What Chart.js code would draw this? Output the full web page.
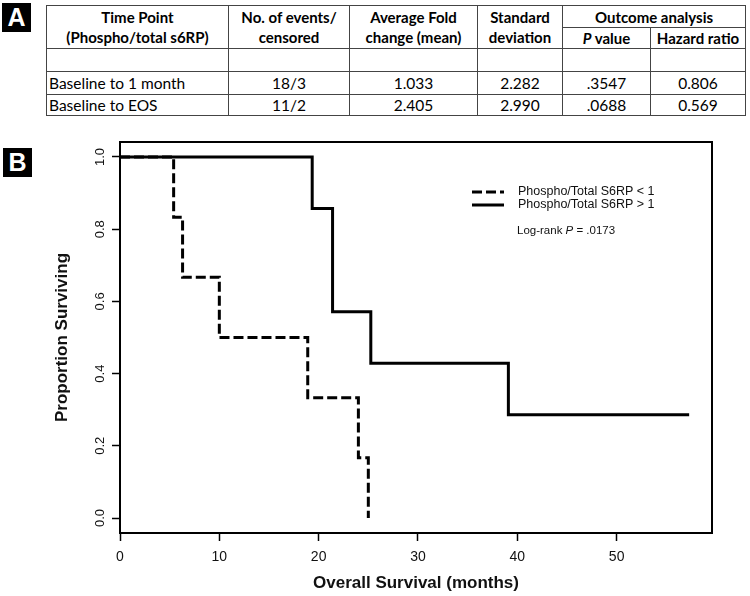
<!DOCTYPE html>
<html>
<head>
<meta charset="utf-8">
<script src="https://cdn.jsdelivr.net/npm/chart.js@4.4.1/dist/chart.umd.min.js"></script>
<style>
  html,body{margin:0;padding:0;background:#fff;}
  body{width:750px;height:596px;position:relative;overflow:hidden;}
  .lab{position:absolute;width:29px;height:29px;background:#000;color:#fff;font:bold 25px "Liberation Sans",Arial,sans-serif;text-align:center;line-height:29px;}
  #tbl{position:absolute;left:46px;top:5px;border-collapse:collapse;table-layout:fixed;font-family:Lato,"Liberation Sans",sans-serif;color:#000;}
  #tbl td{border:1px solid #444;padding:0;white-space:nowrap;overflow:hidden;font-size:15.5px;line-height:18px;text-align:center;vertical-align:middle;}
  #tbl td.h{font-weight:bold;font-size:15px;line-height:20px;}
  #tbl td.l{text-align:left;padding-left:2px;}
  #wrap{position:absolute;left:0;top:125px;width:750px;height:471px;}
</style>
</head>
<body>
<div class="lab" style="left:2px;top:3px;">A</div>
<table id="tbl"></table>
<div class="lab" style="left:3px;top:148px;">B</div>
<div id="wrap"><canvas id="c" width="750" height="471"></canvas></div>
<script>
// ---------- Panel A table data ----------
const headerTimePoint = ['Time Point', '(Phospho/total s6RP)'];
const headerEvents = ['No. of events/', 'censored'];
const headerFold = ['Average Fold', 'change (mean)'];
const headerSD = ['Standard', 'deviation'];
const headerOutcome = 'Outcome analysis';
const headerP = 'value';
const headerHR = 'Hazard ratio';
const rowLabels = ['Baseline to 1 month', 'Baseline to EOS'];
const eventsCensored = ['18/3', '11/2'];
const avgFoldChange = ['1.033', '2.405'];
const stdDeviation = ['2.282', '2.990'];
const pValues = ['.3547', '.0688'];
const hazardRatios = ['0.806', '0.569'];

// ---------- Panel B survival data ----------
const seriesLabels = ['Phospho/Total S6RP < 1', 'Phospho/Total S6RP > 1'];
const timesLow = [0, 5.4, 6.3, 10, 18.9, 24, 25];
const survLow = [1, 0.833, 0.667, 0.5, 0.333, 0.167, 0];
const timesHigh = [0, 19.35, 21.4, 25.25, 39.1, 57.3];
const survHigh = [1, 0.857, 0.571, 0.429, 0.286, 0.286];
const xTickValues = [0, 10, 20, 30, 40, 50];
const yTickValues = [0, 0.2, 0.4, 0.6, 0.8, 1.0];
const xAxisTitle = 'Overall Survival (months)';
const yAxisTitle = 'Proportion Surviving';
const logRankP = '.0173';

// build table
(function(){
  const colW = [182, 121, 128, 85, 88, 95];
  const t = document.getElementById('tbl');
  let html = '<colgroup>' + colW.map(w => '<col style="width:' + w + 'px">').join('') + '</colgroup>';
  html += '<tr style="height:22px">' +
    '<td class="h" rowspan="2">' + headerTimePoint.join('<br>') + '</td>' +
    '<td class="h" rowspan="2">' + headerEvents.join('<br>') + '</td>' +
    '<td class="h" rowspan="2">' + headerFold.join('<br>') + '</td>' +
    '<td class="h" rowspan="2">' + headerSD.join('<br>') + '</td>' +
    '<td class="h" colspan="2">' + headerOutcome + '</td></tr>';
  html += '<tr style="height:20px"><td class="h"><i>P</i> ' + headerP + '</td><td class="h">' + headerHR + '</td></tr>';
  html += '<tr style="height:23px">' + colW.map(() => '<td></td>').join('') + '</tr>';
  rowLabels.forEach((r, i) => {
    html += '<tr style="height:' + (i === 0 ? 23 : 21) + 'px"><td class="l">' + r + '</td><td>' + eventsCensored[i] +
      '</td><td>' + avgFoldChange[i] + '</td><td>' + stdDeviation[i] + '</td><td>' + pValues[i] +
      '</td><td>' + hazardRatios[i] + '</td></tr>';
  });
  t.innerHTML = html;
})();

Chart.defaults.font.family = '"Liberation Sans", Arial, sans-serif';
Chart.defaults.color = '#111';

const framePlugin = {
  id: 'frame',
  afterDatasetsDraw(chart) {
    const {ctx, chartArea: a} = chart;
    ctx.save();
    ctx.strokeStyle = '#000';
    ctx.lineWidth = 2;
    ctx.strokeRect(a.left, a.top, a.right - a.left, a.bottom - a.top);
    ctx.restore();
  }
};

const legendPlugin = {
  id: 'kmLegend',
  afterDraw(chart) {
    const ctx = chart.ctx;
    ctx.save();
    const rowsY = [67, 80];
    chart.data.datasets.forEach((ds, i) => {
      const y = rowsY[i];
      ctx.strokeStyle = ds.borderColor;
      ctx.lineWidth = 3;
      ctx.setLineDash(ds.borderDash || []);
      ctx.beginPath();
      ctx.moveTo(472, y);
      ctx.lineTo(504, y);
      ctx.stroke();
      ctx.setLineDash([]);
      ctx.fillStyle = '#111';
      ctx.font = '12.5px "Liberation Sans", Arial, sans-serif';
      ctx.textBaseline = 'middle';
      ctx.textAlign = 'left';
      ctx.fillText(ds.label, 518, y);
    });
    // log-rank annotation
    let x = 517; const y = 106;
    ctx.font = '11.5px "Liberation Sans", Arial, sans-serif';
    ctx.fillText('Log-rank ', x, y); x += ctx.measureText('Log-rank ').width;
    ctx.font = 'italic 11.5px "Liberation Sans", Arial, sans-serif';
    ctx.fillText('P', x, y); x += ctx.measureText('P').width;
    ctx.font = '11.5px "Liberation Sans", Arial, sans-serif';
    ctx.fillText(' = ' + logRankP, x, y);
    ctx.restore();
  }
};

const toPts = (ts, ss) => ts.map((t, i) => ({x: t, y: ss[i]}));

new Chart(document.getElementById('c'), {
  type: 'line',
  data: {
    datasets: [
      {label: seriesLabels[0], data: toPts(timesLow, survLow), stepped: 'before', borderColor: '#000',
       borderWidth: 3, borderDash: [10, 4], pointRadius: 0, fill: false, borderCapStyle: 'butt'},
      {label: seriesLabels[1], data: toPts(timesHigh, survHigh), stepped: 'before', borderColor: '#000',
       borderWidth: 3, pointRadius: 0, fill: false}
    ]
  },
  options: {
    responsive: false,
    animation: false,
    devicePixelRatio: 1,
    layout: {padding: {left: 0, right: 38, top: 17, bottom: 0}},
    plugins: {legend: {display: false}, tooltip: {enabled: false}},
    scales: {
      x: {
        type: 'linear', min: 0, max: 59.6,
        afterBuildTicks: s => { s.ticks = xTickValues.map(v => ({value: v})); },
        afterFit: s => { s.height = 63; },
        ticks: {font: {size: 14}, padding: 8, maxRotation: 0, color: '#111'},
        grid: {drawOnChartArea: false, drawTicks: true, tickLength: 8, tickWidth: 1.5, tickColor: '#000'},
        border: {display: true, color: '#000', width: 2},
        title: {display: true, text: xAxisTitle, color: '#111', font: {size: 17, weight: 'bold'}, padding: {top: 0, bottom: 2.8}}
      },
      y: {
        type: 'linear', min: -0.0415, max: 1.0415,
        afterBuildTicks: s => { s.ticks = yTickValues.map(v => ({value: v})); },
        afterFit: s => { s.width = 120; },
        ticks: {font: {size: 13}, padding: 3, minRotation: 90, maxRotation: 90, crossAlign: 'center', color: '#111',
                callback: v => Number(v).toFixed(1)},
        grid: {drawOnChartArea: false, drawTicks: true, tickLength: 8, tickWidth: 1.5, tickColor: '#000'},
        border: {display: true, color: '#000', width: 2},
        title: {display: true, text: yAxisTitle, color: '#111', font: {size: 17, weight: 'bold'}, padding: {top: 51.8, bottom: 0}}
      }
    }
  },
  plugins: [framePlugin, legendPlugin]
});
</script>
</body>
</html>
